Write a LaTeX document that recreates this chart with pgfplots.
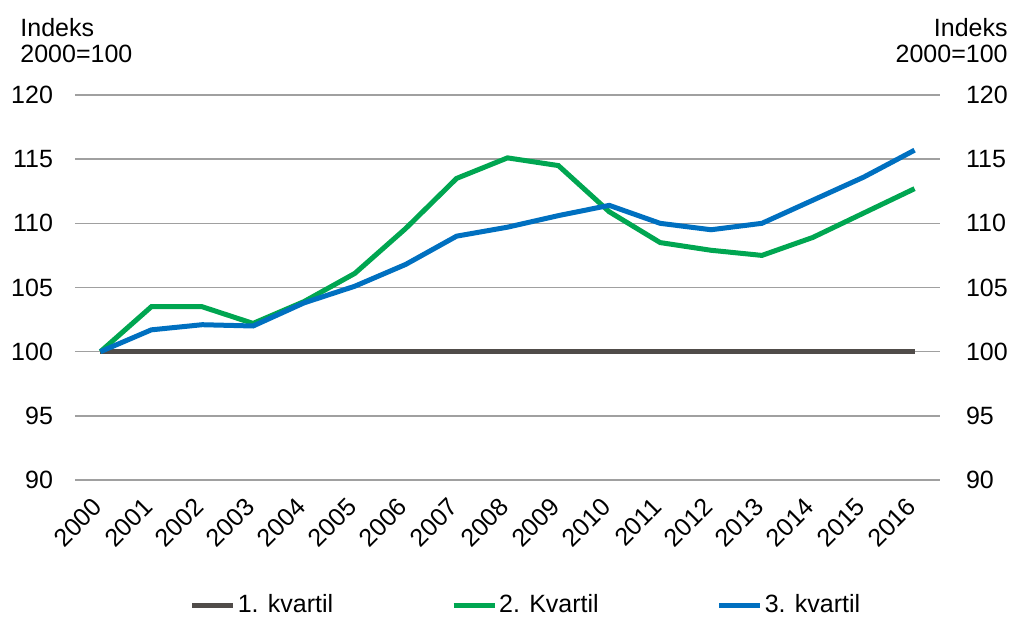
\documentclass[border=0pt]{standalone}
\usepackage{fontspec}
\setmainfont{Liberation Sans}
\usepackage{pgfplots}
\pgfplotsset{compat=1.18}

\definecolor{kgrey}{RGB}{80,76,73}
\definecolor{kgreen}{RGB}{0,166,81}
\definecolor{kblue}{RGB}{0,112,192}
\definecolor{gridc}{RGB}{160,160,160}

\pgfplotsset{
  base/.style={
    scale only axis,
    width=432.5pt, height=192.5pt,
    xmin=1999.5, xmax=2016.5,
    ymin=90, ymax=120,
    ytick={90,95,...,120},
    xtick={2000,...,2016},
    tick style={draw=none},
    font=\fontsize{12.5}{15}\selectfont,
    /pgf/number format/assume math mode=true,
    /pgf/number format/1000 sep={},
  }
}

\begin{document}
\begin{tikzpicture}
\useasboundingbox (-37.5pt,-69.5pt) rectangle (468pt,240pt);
\begin{axis}[base,
  axis line style={draw=none},
  ymajorgrids,
  grid style={gridc, line width=0.75pt},
  yticklabel style={xshift=-7.5pt},
  xticklabel style={xshift=1pt, yshift=-9pt, rotate=45, anchor=east},
  legend columns=3,
  legend style={draw=none, at={(0.5214,-0.3247)}, anchor=center,
    font=\fontsize{12.5}{15}\selectfont,
    nodes={inner xsep=1pt},
    /tikz/every even column/.append style={column sep=58pt}},
  legend image code/.code={\draw[#1] (0pt,0pt) -- (20.5pt,0pt);},
  legend cell align=left,
]
\addplot[kgrey, line width=2.5pt] coordinates {
  (2000,100) (2001,100) (2002,100) (2003,100) (2004,100) (2005,100)
  (2006,100) (2007,100) (2008,100) (2009,100) (2010,100) (2011,100)
  (2012,100) (2013,100) (2014,100) (2015,100) (2016,100)
};
\addplot[kgreen, line width=2.5pt] coordinates {
  (2000,100) (2001,103.5) (2002,103.5) (2003,102.2) (2004,103.9)
  (2005,106.1) (2006,109.6) (2007,113.5) (2008,115.1) (2009,114.5)
  (2010,110.9) (2011,108.5) (2012,107.9) (2013,107.5) (2014,108.9)
  (2015,110.8) (2016,112.7)
};
\addplot[kblue, line width=2.5pt] coordinates {
  (2000,100) (2001,101.7) (2002,102.1) (2003,102.0) (2004,103.8)
  (2005,105.1) (2006,106.8) (2007,109.0) (2008,109.7) (2009,110.6)
  (2010,111.4) (2011,110.0) (2012,109.5) (2013,110.0) (2014,111.8)
  (2015,113.6) (2016,115.7)
};
\legend{1. kvartil, 2. Kvartil, 3. kvartil}
\end{axis}
\begin{axis}[base,
  axis line style={draw=none},
  xticklabels={},
  yticklabel pos=right,
  yticklabel style={xshift=9.5pt},
]
\end{axis}
\node[anchor=base west, inner sep=0pt, font=\fontsize{12.5}{15}\selectfont] at (-27.5pt,221.5pt) {Indeks};
\node[anchor=base west, inner sep=0pt, font=\fontsize{12.5}{15}\selectfont] at (-27.5pt,208.5pt) {2000=100};
\node[anchor=base east, inner sep=0pt, font=\fontsize{12.5}{15}\selectfont] at (466.5pt,221.5pt) {Indeks};
\node[anchor=base east, inner sep=0pt, font=\fontsize{12.5}{15}\selectfont] at (466.5pt,208.5pt) {2000=100};
\end{tikzpicture}
\end{document}
